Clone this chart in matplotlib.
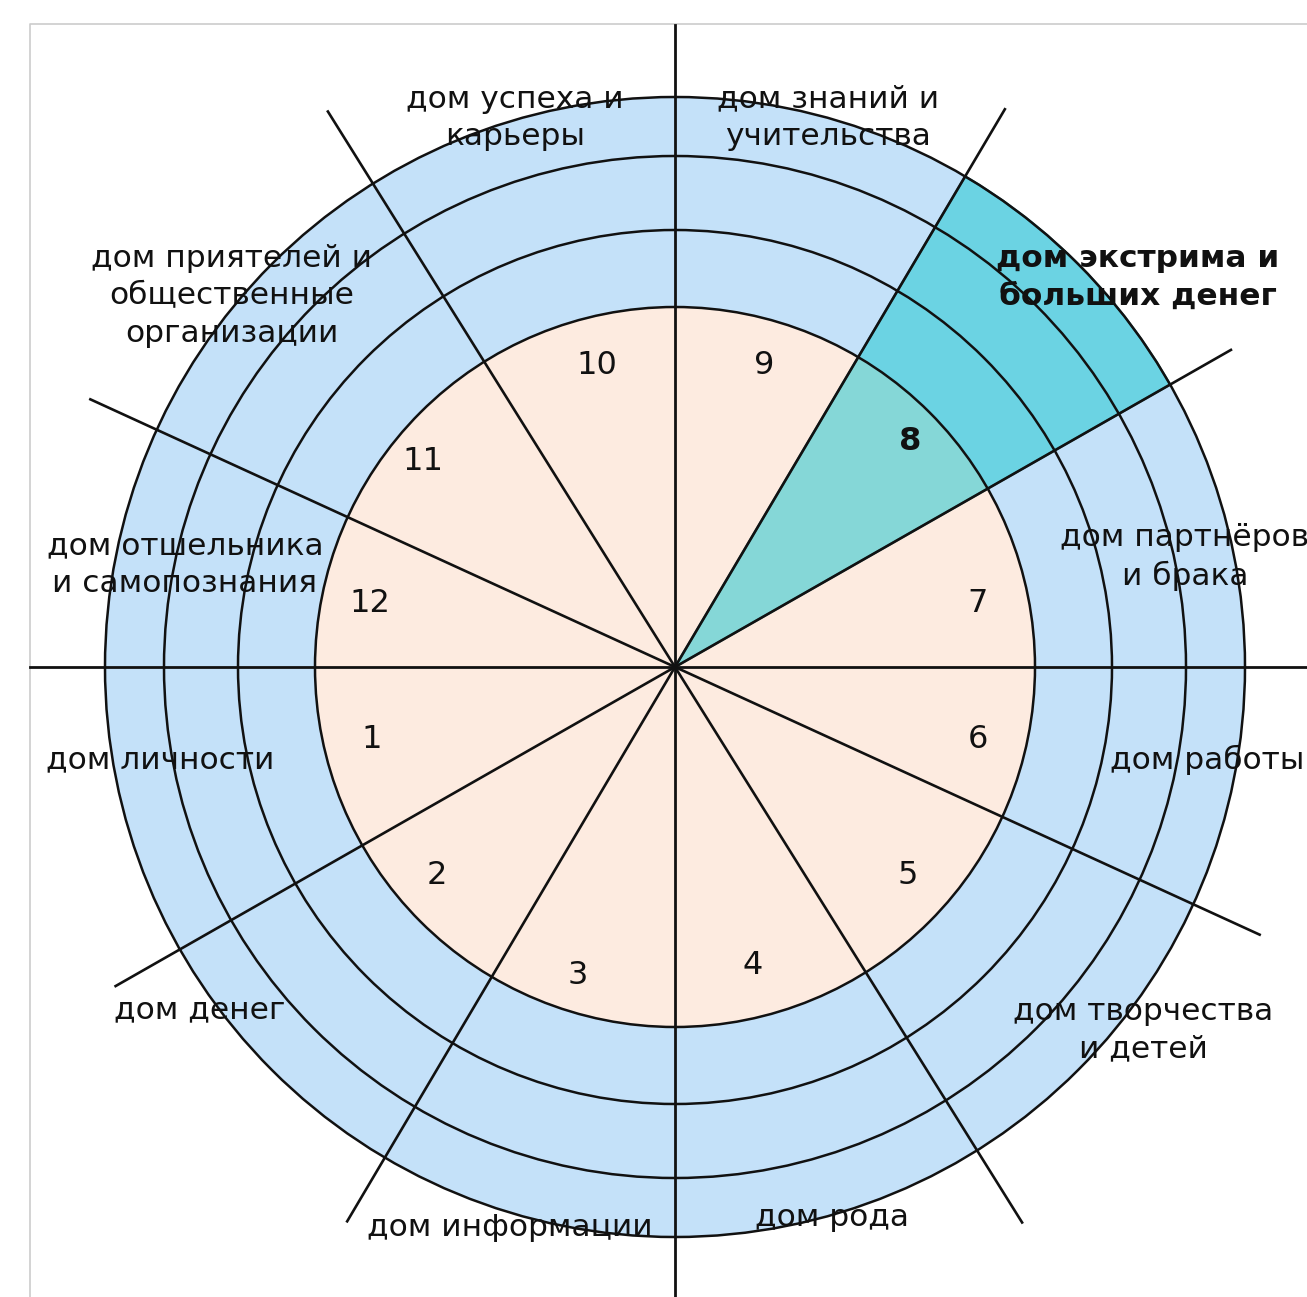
import matplotlib
matplotlib.use('Agg')
import matplotlib.pyplot as plt
import numpy as np
from matplotlib.patches import Circle, Wedge

plt.rcParams['font.family'] = ['DejaVu Sans']

# houses 1..12, counter-clockwise starting below the left horizontal
house_numbers = [1, 2, 3, 4, 5, 6, 7, 8, 9, 10, 11, 12]
house_names = [
    'дом личности',
    'дом денег',
    'дом информации',
    'дом рода',
    'дом творчества\nи детей',
    'дом работы',
    'дом партнёров\nи брака',
    'дом экстрима и\nбольших денег',
    'дом знаний и\nучительства',
    'дом успеха и\nкарьеры',
    'дом приятелей и\nобщественные\nорганизации',
    'дом отшельника\nи самопознания',
]
# start angle of each house (degrees, counter-clockwise from the right)
house_start = [180, 209.7, 239.4, 270, 302, 335.4, 0, 29.7, 59.4, 90, 122, 155.4]
ring_radii = [360, 437, 511, 570]
highlight_house = 8

# pixel-space layout (figure is 1307x1297, circle centre at 675,667)
CX, CY = 675, 667
W, H = 1307, 1297
name_pos = [
    (160, 760), (200, 1010), (510, 1227), (832, 1218), (1143, 1030),
    (1207, 760), (1185, 557), (1138, 277), (828, 118), (515, 118),
    (232, 296), (185, 565),
]
num_pos = [
    (372, 739), (437, 876), (578, 975), (753, 966), (908, 876), (978, 739),
    (978, 603), (910, 442), (764, 366), (597, 366), (423, 462), (370, 603),
]
# length of each dividing half-line beyond the centre
line_len = {29.7: 640, 59.4: 648, 122: 655, 155.4: 643,
            209.7: 644, 239.4: 644, 302: 655, 335.4: 643}

BLUE = '#c4e1f9'
PEACH = '#fdebe0'
TEAL = '#22c8d1'
INK = '#111111'


def px(x, y):
    return x - CX, CY - y


fig = plt.figure(figsize=(W / 100, H / 100), dpi=100)
ax = fig.add_axes([0, 0, 1, 1])
ax.set_xlim(-CX, W - CX)
ax.set_ylim(CY - H, CY)
ax.set_aspect('equal')
ax.axis('off')

# thin frame
fx, fy = px(30, 24)
ax.plot([fx, fx, W - CX], [CY - H, fy, fy], color='#cccccc', lw=1.2, zorder=0)

# rings
for r, c in zip(ring_radii[::-1], [BLUE, BLUE, BLUE, PEACH]):
    ax.add_patch(Circle((0, 0), r, facecolor=c, edgecolor='none', zorder=1))

# highlighted house
i = house_numbers.index(highlight_house)
a0 = house_start[i]
a1 = house_start[(i + 1) % 12]
ax.add_patch(Wedge((0, 0), ring_radii[-1], a0, a1, facecolor=TEAL, alpha=0.55,
                   edgecolor='none', zorder=2))
ax.add_patch(Wedge((0, 0), ring_radii[-1], a0, a1, facecolor='none',
                   edgecolor='#2a7f86', lw=1.6, zorder=3))

for r in ring_radii:
    ax.add_patch(Circle((0, 0), r, facecolor='none', edgecolor=INK, lw=1.8, zorder=4))

# axes cross
ax.plot([0, 0], [CY - H, CY - 25], color=INK, lw=2.0, zorder=5)
ax.plot([30 - CX, W - CX], [0, 0], color=INK, lw=2.0, zorder=5)

# dividing lines
for ang, L in line_len.items():
    t = np.deg2rad(ang)
    ax.plot([0, L * np.cos(t)], [0, L * np.sin(t)], color=INK, lw=1.9, zorder=5)

# numbers and names
for num, name, npos, pos in zip(house_numbers, house_names, num_pos, name_pos):
    bold = num == highlight_house
    weight = 'bold' if bold else 'normal'
    x, y = px(*npos)
    ax.text(x, y, str(num), ha='center', va='center',
            fontsize=23, color=INK, fontweight=weight, zorder=6)
    x, y = px(*pos)
    ax.text(x, y, name, ha='center', va='center', fontsize=22.5, color=INK,
            linespacing=1.38, fontweight=weight, zorder=6)

fig.savefig('out.png', dpi=100)
